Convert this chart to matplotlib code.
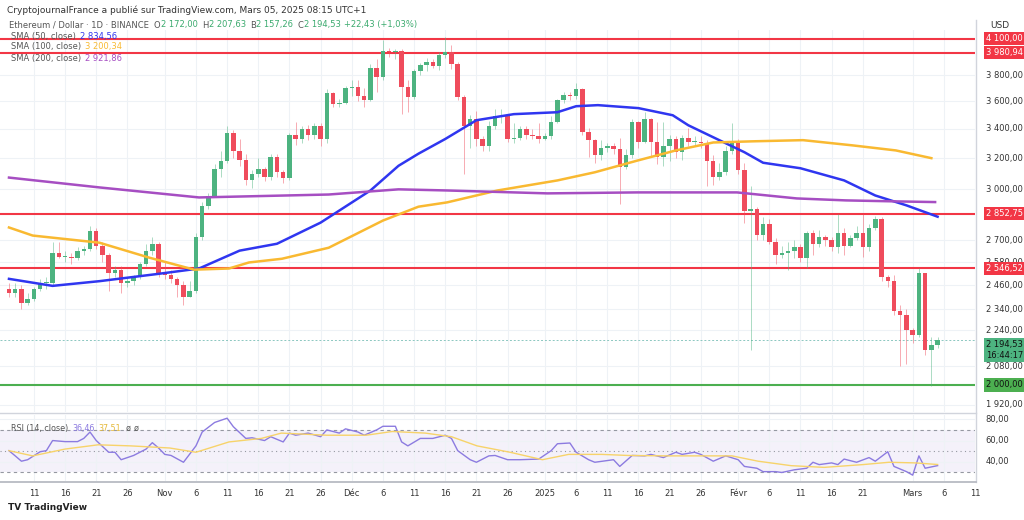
import numpy as np
import pandas as pd
import matplotlib
matplotlib.use("Agg")
import matplotlib.pyplot as plt
from matplotlib.ticker import FixedLocator, NullLocator

closes = [2420,2440,2370,2390,2440,2470,2470,2630,2610,2610,2600,2640,2650,2750,2670,2620,2520,2540,2470,2480,2500,2570,2640,2680,2520,
 2510,2490,2460,2400,2430,2720,2900,2960,3130,3180,3370,3250,3190,3060,3100,3130,3080,3210,3110,3070,3360,3330,3400,3360,3420,3330,3660,3580,3590,3700,
 3710,3640,3610,3860,3790,4000,3990,4000,3710,3630,3830,3880,3910,3870,3960,3990,3890,3630,3420,3470,3330,3280,3420,3490,3490,3330,3340,3400,3360,3350,3330,
 3350,3450,3610,3650,3640,3690,3380,3320,3220,3270,3280,3260,3140,3220,3450,3310,3470,3310,3210,3280,3330,3240,3340,3310,3310,3300,3180,3080,3110,3250,3300,
 3120,2870,2880,2730,2790,2690,2620,2630,2640,2660,2600,2740,2680,2720,2700,2660,2740,2670,2710,2740,2660,2770,2820,2500,2480,2330,2310,2240,
 2220,2520,2150,2172,2194.53]
opens = [2440,2420,2440,2370,2390,2440,2470,2470,2630,2610,2610,2600,2640,2650,2750,2670,2620,2520,2540,2470,2480,2500,2570,2640,2680,
 2520,2510,2490,2460,2400,2430,2720,2900,2960,3130,3180,3370,3250,3190,3060,3100,3130,3080,3210,3110,3070,3360,3330,3400,3360,3420,3330,3660,3580,3590,
 3700,3710,3640,3610,3860,3790,4000,3990,4000,3710,3630,3830,3880,3910,3870,3960,3990,3890,3630,3420,3470,3330,3280,3420,3490,3490,3330,3340,3400,3360,3350,
 3330,3350,3450,3610,3650,3640,3690,3380,3320,3220,3270,3280,3260,3140,3220,3450,3310,3470,3310,3210,3280,3330,3240,3340,3310,3310,3300,3180,3080,3110,3250,
 3300,3120,2870,2880,2730,2790,2690,2620,2630,2640,2660,2600,2740,2680,2720,2700,2660,2740,2670,2710,2740,2660,2770,2820,2500,2480,2330,2310,
 2240,2220,2520,2150,2172]
highs = [2470,2470,2460,2420,2450,2490,2500,2690,2690,2640,2630,2660,2670,2780,2770,2690,2630,2560,2560,2500,2510,2580,2680,2720,2690,
 2580,2540,2500,2480,2480,2740,2920,2980,3160,3250,3420,3390,3330,3230,3120,3200,3140,3230,3230,3120,3370,3450,3420,3430,3440,3440,3690,3670,3620,3720,
 3760,3760,3700,3890,3930,4090,4020,4010,4010,3760,3850,3900,3940,3930,3990,4110,4050,3910,3650,3500,3530,3350,3460,3540,3540,3510,3440,3420,3420,3400,3440,
 3370,3490,3620,3670,3670,3740,3700,3410,3330,3320,3300,3300,3340,3260,3470,3460,3520,3480,3450,3450,3360,3350,3360,3410,3350,3350,3320,3220,3170,3280,3440,
 3330,3170,3020,2890,2830,2820,2710,2670,2690,2700,2680,2750,2760,2760,2730,2720,2850,2770,2730,2780,2850,2790,2840,2830,2510,2510,2360,2340,
 2250,2550,2520,2210,2207.63]
lows = [2400,2400,2340,2360,2380,2430,2440,2460,2600,2580,2570,2590,2620,2640,2650,2580,2430,2500,2420,2450,2460,2490,2560,2620,2500,
 2490,2470,2400,2360,2400,2420,2700,2880,2950,3080,3170,3200,3150,3030,3010,3080,3050,3060,3080,3040,3060,3290,3300,3320,3330,3280,3300,3560,3560,3580,
 3640,3600,3560,3600,3670,3760,3950,3930,3510,3520,3620,3800,3830,3860,3840,3940,3850,3610,3100,3270,3280,3250,3250,3400,3440,3310,3300,3320,3330,3330,3300,
 3320,3330,3440,3590,3610,3620,3360,3210,3170,3190,3240,3230,2910,3130,3200,3270,3300,3210,3160,3150,3180,3200,3190,3280,3280,3270,3020,3030,3060,3090,3230,
 3100,2800,2150,2700,2700,2680,2570,2600,2540,2600,2580,2550,2620,2660,2670,2640,2630,2620,2660,2700,2610,2640,2760,2480,2450,2310,2080,2090,
 2180,2210,2130,1995,2157.26]

sma50_day = [0,7,14.5,24,30.5,37,43,50,58,62.5,65.7,70,75,81,88,91,94.5,101,106.5,109,113,118,121,127,134,139,144,149]
sma50_val = [2492,2456,2480,2518,2546,2642,2680,2800,2993,3150,3230,3330,3462,3506,3520,3564,3572,3550,3498,3426,3342,3240,3170,3134,3056,2962,2902,2834.56]
sma100_day = [0,3.8,14.5,22.5,29.7,35.3,38.5,43.8,51.3,60,65.7,70.3,78.4,88,94,100.8,107,113,119.4,127.4,135.4,142.3,148]
sma100_val = [2772,2726,2686,2604,2540,2546,2578,2598,2658,2812,2894,2920,2993,3056,3108,3184,3252,3306,3314,3322,3286,3252,3200.34]
sma200_day = [0,14.5,30.5,51.3,62.5,70.3,86.4,100.8,116.8,126.4,134.3,142.3,148.6]
sma200_val = [3074,3012,2950,2968,3000,2993,2975,2981,2981,2944,2932,2926,2921.86]

rsi_day = [0,1,2,3,5,6,7,9,11,12,13,14,16,17,18,20,22,23,24,25,26,28,30,31,33,35,36,38,39,41,42,44,45,46,48,50,51,53,54,56,57,59,60,62,63,64,66,68,70,71,72,74,75,77,78,80,82,85,87,88,90,91,93,94,97,98,100,102,103,105,107,108,110,111,113,115,117,118,120,121,123,124,126,128,129,130,132,133,134,136,138,139,141,142,144,145,146,147,149]
rsi_val = [50.5,45.6,40.6,42,49.5,50.5,60,59,59,62,68,60,49,49,42,46,52,58,53,47,46,39.6,55,68,77,81,73,62,62.6,60,63.6,58.7,67,65,67,63.6,70,67,71,68,65,70,73.4,73.4,58.7,55,62,62,65,62,50.5,42,39.6,45.6,46,42,42,42.6,50.5,57,57.7,49,42,39.6,42,35.7,46,45.6,47,44,49,47,49,47,40.6,45.6,42,35.7,34,30.8,30.8,30,32.5,34,39.6,37.4,39,37.4,42.6,39.6,44,40.6,49.5,35.7,30.8,27.5,45.6,34,36.46]
rsima_day = [0,3.8,9,14.3,19.5,25.8,30,35.3,40.5,43.7,51,57.3,61.5,66.8,71,75.1,80.4,85.6,89.8,95.1,99.3,105.6,111.9,116,120.2,125.5,130.8,137,141.2,145.4,149]
rsima_val = [50.5,45.6,52,56,55,53,49,58.7,62,67,65,65,68.5,67,63.6,55,49,42,47,47,46,45.6,45.6,45.6,40.6,36.4,34.8,37.4,39.6,39,37.51]

price_ticks = [1920,2080,2240,2340,2460,2580,2700,3000,3200,3400,3600,3800]
red_levels = [4100.00, 3980.94, 2852.75, 2546.52]
green_level = 2000.00
last_price = 2194.53
tick_days = [4,9,14,19,25,30,35,40,45,50,55,60,65,70,75,80,86,91,96,101,106,111,117,122,127,132,137,145,150,155]
tick_labels = ["11","16","21","26","Nov","6","11","16","21","26","Déc","6","11","16","21","26","2025","6","11","16","21","26","Févr","6","11","16","21","Mars","6","11"]

def fmt(v):
    return f"{v:,.2f}".replace(",", " ").replace(".", ",")

GREEN = "#4DB380"; RED = "#EF4C5C"; GRID = "#EEF2F6"; TXT = "#333333"
W, H = 1024, 520
fig = plt.figure(figsize=(W/100, H/100), dpi=100)
renderer = fig.canvas.get_renderer()
def ax_rect(x0, y0, x1, y1):
    return [x0/W, 1-y1/H, (x1-x0)/W, (y1-y0)/H]
ax = fig.add_axes(ax_rect(0, 30, 975, 412))
rx = fig.add_axes(ax_rect(0, 415, 975, 481), sharex=ax)

n = len(closes)
days = np.arange(n)
for a in (ax, rx):
    for sp in a.spines.values(): sp.set_visible(False)
    a.set_facecolor("white")
    a.xaxis.set_major_locator(FixedLocator(tick_days))
    a.grid(True, axis="x", color=GRID, lw=0.8)
    a.tick_params(length=0)
ax.set_yscale("log")
ax.set_ylim(1891, 4174)
ax.set_xlim(-1.44, 154.3)
ax.yaxis.set_major_locator(FixedLocator(price_ticks))
ax.yaxis.set_minor_locator(NullLocator())
ax.grid(True, axis="y", color=GRID, lw=0.8)
ax.set_yticklabels([])
ax.tick_params(labelbottom=False, labelleft=False)

for i in range(n):
    o, c, h, l = opens[i], closes[i], highs[i], lows[i]
    col = GREEN if c >= o else RED
    ax.vlines(days[i], l, h, color=col, lw=0.6, alpha=0.55, zorder=3)
    ax.bar(days[i], abs(c-o) if abs(c-o) > 4 else 4, bottom=min(o, c), width=0.72, color=col, zorder=4)

ax.plot(sma50_day, sma50_val, color="#2F36F0", lw=1.8, zorder=5)
ax.plot(sma100_day, sma100_val, color="#F9B931", lw=1.8, zorder=5)
ax.plot(sma200_day, sma200_val, color="#A64EC2", lw=1.8, zorder=5)
for lv in red_levels:
    ax.axhline(lv, color="#F23645", lw=1.5, zorder=2)
ax.axhline(green_level, color="#4CAF50", lw=1.5, zorder=2)
ax.axhline(last_price, color="#8BC7C0", lw=0.7, ls=(0, (2, 2)), zorder=2)

trans = ax.get_yaxis_transform()
for t in price_ticks:
    ax.text(1.011, t, fmt(t), transform=trans, va="center", ha="left", fontsize=6, color=TXT, clip_on=False)
for lv in red_levels:
    ax.text(1.011, lv, fmt(lv), transform=trans, va="center", ha="left", fontsize=6, color="white", clip_on=False,
            bbox=dict(boxstyle="square,pad=0.25", fc="#F23645", ec="none"))
ax.text(1.011, green_level, fmt(green_level), transform=trans, va="center", ha="left", fontsize=6, color="#111", clip_on=False,
        bbox=dict(boxstyle="square,pad=0.25", fc="#4CAF50", ec="none"))
ax.text(1.011, last_price, fmt(last_price) + "\n16:44:17", transform=trans, va="top", ha="left", fontsize=6, color="#111",
        clip_on=False, linespacing=1.2, bbox=dict(boxstyle="square,pad=0.25", fc="#4DB380", ec="none"))
fig.text(1000/W, 1-25/H, "USD", fontsize=6.5, ha="center", va="center", color=TXT)

def seq(x, y, parts, fs=6):
    for s, col, gap in parts:
        t = fig.text(x/W, 1-y/H, s, fontsize=fs, color=col, va="center")
        bb = t.get_window_extent(renderer)
        x += bb.width + gap

fig.text(7/W, 1-10/H, "CryptojournalFrance a publié sur TradingView.com, Mars 05, 2025 08:15 UTC+1", fontsize=6.5, color=TXT, va="center")
G2 = "#3BAA6E"; GR = "#555555"
seq(9, 25, [("Ethereum / Dollar · 1D · BINANCE", GR, 5), ("O", GR, 0.5), ("2 172,00", G2, 4), ("H", GR, 0.5), ("2 207,63", G2, 4),
            ("B", GR, 0.5), ("2 157,26", G2, 4), ("C", GR, 0.5), ("2 194,53", G2, 4), ("+22,43 (+1,03%)", G2, 0)])
for k, (lab, val, col) in enumerate([("SMA (50, close)", "2 834,56", "#2F36F0"), ("SMA (100, close)", "3 200,34", "#F9B931"), ("SMA (200, close)", "2 921,86", "#A64EC2")]):
    seq(11, 36 + 11*k, [(lab, GR, 4), (val, col, 0)])

rx.set_ylim(22, 84)
rx.axhspan(30, 70, color="#7E57C2", alpha=0.08, lw=0)
for lv, ls in [(70, (0, (3, 3))), (50, (0, (1, 3))), (30, (0, (3, 3)))]:
    rx.axhline(lv, color="#9598A1", lw=0.8, ls=ls)
rx.yaxis.set_major_locator(FixedLocator([40, 60, 80]))
rx.grid(True, axis="y", color=GRID, lw=0.8)
rx.plot(rsi_day, rsi_val, color="#8C7BE0", lw=1.0)
rx.plot(rsima_day, rsima_val, color="#F7D36A", lw=1.0)
rtr = rx.get_yaxis_transform()
for t in [40, 60, 80]:
    rx.text(1.011, t, fmt(t), transform=rtr, va="center", ha="left", fontsize=6, color=TXT, clip_on=False)
rx.set_yticklabels([])
rx.set_xticks(tick_days)
rx.set_xticklabels(tick_labels, fontsize=6, color=TXT)
rx.tick_params(axis="x", pad=6)
seq(11, 428, [("RSI (14, close)", GR, 4), ("36,46", "#8C7BE0", 4), ("37,51", "#E5B93A", 4), ("ø", GR, 3), ("ø", GR, 0)], fs=5.8)

fig.add_artist(plt.Line2D([976/W, 976/W], [1-482/H, 1-20/H], color="#D1D4DC", lw=1))
fig.add_artist(plt.Line2D([0, 976/W], [1-413/H, 1-413/H], color="#D1D4DC", lw=1))
fig.add_artist(plt.Line2D([0, 976/W], [1-482/H, 1-482/H], color="#B2B5BE", lw=1.2))
fig.text(8/W, 1-508/H, "TV TradingView", fontsize=6.5, color="#222", va="center", weight="bold")

fig.savefig("out.png", dpi=100, facecolor="white")
